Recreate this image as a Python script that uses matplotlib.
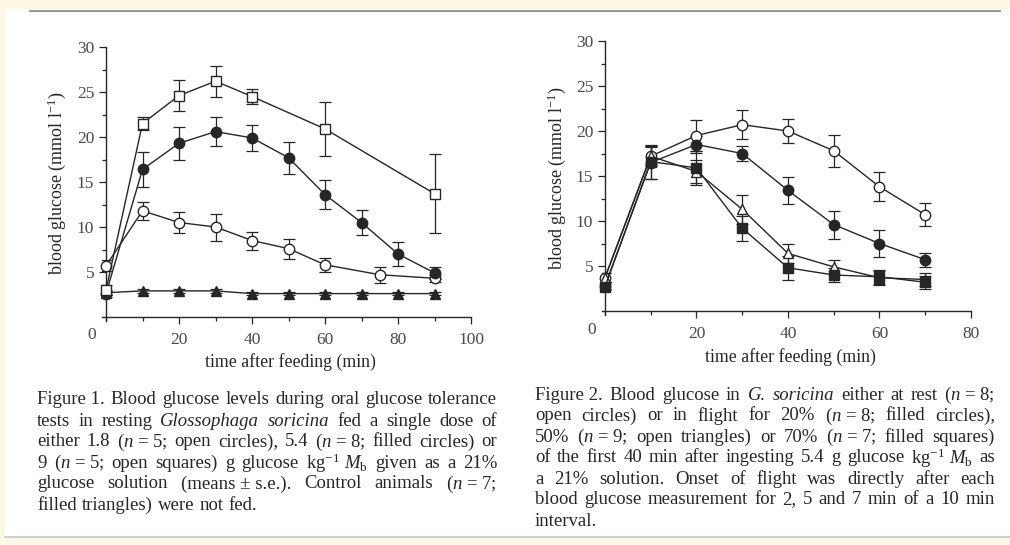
import numpy as np
import matplotlib
matplotlib.use("Agg")
import matplotlib.pyplot as plt
from matplotlib.patches import Rectangle
from matplotlib.lines import Line2D

plt.rcParams['font.family'] = ['Liberation Serif', 'DejaVu Serif']
plt.rcParams['mathtext.fontset'] = 'custom'
plt.rcParams['mathtext.rm'] = 'Liberation Serif'
plt.rcParams['mathtext.it'] = 'Liberation Serif:italic'

# ---- Figure 1 data (resting bats, oral glucose dose)
t_low = [0, 10, 20, 30, 40, 50, 60, 75, 90]
low = [5.7, 11.8, 10.5, 10.0, 8.5, 7.6, 5.8, 4.7, 4.3]
low_se = [0.6, 1.0, 1.2, 1.5, 1.0, 1.1, 0.75, 0.9, 0.4]

t_mid = [0, 10, 20, 30, 40, 50, 60, 70, 80, 90]
mid = [2.6, 16.4, 19.3, 20.6, 19.9, 17.7, 13.6, 10.5, 7.0, 4.9]
mid_se = [0.4, 1.9, 1.8, 1.6, 1.4, 1.8, 1.6, 1.4, 1.3, 0.65]

t_high = [0, 10, 20, 30, 40, 60, 90]
high = [3.0, 21.5, 24.6, 26.2, 24.5, 20.9, 13.7]
high_se = [0.6, 0.7, 1.7, 1.7, 0.8, 3.0, 4.4]

t_ctrl = [0, 10, 20, 30, 40, 50, 60, 70, 80, 90]
ctrl = [2.7, 2.9, 2.9, 2.9, 2.6, 2.6, 2.6, 2.6, 2.6, 2.6]
ctrl_se = [0.2] * 10

# ---- Figure 2 data (rest vs flight)
t2 = [0, 10, 20, 30, 40, 50, 60, 70]
rest = [3.7, 17.2, 19.5, 20.7, 20.0, 17.8, 13.8, 10.7]
rest_se = [0.5, 1.0, 1.7, 1.6, 1.35, 1.8, 1.6, 1.3]
f20 = [2.8, 16.5, 18.5, 17.5, 13.4, 9.6, 7.5, 5.7]
f20_se = [0.4, 1.8, 0.9, 0.8, 1.5, 1.55, 1.5, 0.8]
f50 = [3.7, 17.2, 15.5, 11.3, 6.4, 4.9, 3.7, 3.5]
f50_se = [0.5, 1.1, 1.3, 1.6, 1.1, 0.8, 0.8, 0.7]
f70 = [2.7, 16.6, 15.9, 9.2, 4.8, 4.0, 3.8, 3.2]
f70_se = [0.4, 1.9, 1.9, 1.4, 1.3, 0.8, 0.8, 0.7]

cap1 = [
    "Figure~1. Blood glucose levels during oral glucose tolerance",
    "tests in resting *Glossophaga* *soricina* fed a single dose of",
    "either 1.8 ($n$~=~5; open circles), 5.4 ($n$~=~8; filled circles) or",
    "9 ($n$~=~5; open squares) g glucose kg$^{-1}$~$M_\\mathrm{b}$ given as a 21%",
    "glucose solution (means~±~s.e.). Control animals ($n$~=~7;",
    "filled triangles) were not fed.",
]
cap2 = [
    "Figure~2. Blood glucose in *G.* *soricina* either at rest ($n$~=~8;",
    "open circles) or in flight for 20% ($n$~=~8; filled circles),",
    "50% ($n$~=~9; open triangles) or 70% ($n$~=~7; filled squares)",
    "of the first 40 min after ingesting 5.4 g glucose kg$^{-1}$~$M_\\mathrm{b}$ as",
    "a 21% solution. Onset of flight was directly after each",
    "blood glucose measurement for 2, 5 and 7 min of a 10 min",
    "interval.",
]

W, H = 1010, 545
fig = plt.figure(figsize=(W / 100, H / 100), dpi=100)
fig.patch.set_facecolor('#fdf8e4')
fig.patches.append(Rectangle((5 / W, 1 - 537 / H), 1 - 5 / W, (537 - 9) / H,
                             transform=fig.transFigure, fc='white', ec='none', zorder=-10))
fig.lines.append(Line2D([30 / W, 1000 / W], [1 - 11 / H, 1 - 11 / H], transform=fig.transFigure,
                        color='#9a9a9a', lw=1.5))
fig.lines.append(Line2D([5 / W, 1 / 1], [1 - 537 / H, 1 - 537 / H], transform=fig.transFigure,
                        color='#c8c8c8', lw=1.2))

ink = '#262626'
tick_col = '#4a4a4a'


def make_ax(px_left, px_right, xmin, xmax, py_top, py_zero):
    ymin = -0.4
    py_bot = py_zero + 0.4 * (py_zero - py_top) / 30
    ax = fig.add_axes([px_left / W, 1 - py_bot / H, (px_right - px_left) / W, (py_bot - py_top) / H])
    ax.set_xlim(xmin, xmax)
    ax.set_ylim(ymin, 30)
    ax.spines['top'].set_visible(False)
    ax.spines['right'].set_visible(False)
    ax.spines['left'].set_position(('data', 0))
    ax.spines['bottom'].set_position(('data', 0))
    for s in ('left', 'bottom'):
        ax.spines[s].set_color(ink)
        ax.spines[s].set_linewidth(1.0)
    ax.set_yticks([5, 10, 15, 20, 25, 30])
    ax.set_yticks(np.arange(2.5, 30, 5), minor=True)
    ax.tick_params(axis='both', which='major', direction='out', length=5, width=0.9,
                   color=ink, labelsize=12.5, labelcolor=tick_col)
    ax.tick_params(axis='both', which='minor', direction='out', length=3, width=0.9, color=ink)
    ax.tick_params(axis='x', pad=6)
    ax.patch.set_alpha(0)
    return ax


def series(ax, x, y, e, marker, filled, ms):
    ax.errorbar(x, y, yerr=e, fmt='none', ecolor=ink, elinewidth=0.9, capsize=4.5, capthick=0.9, zorder=2)
    ax.plot(x, y, color=ink, lw=1.0, marker=marker, ms=ms, mec=ink, mew=1.0,
            mfc=ink if filled else 'white', zorder=3, clip_on=False)


# ---- left chart
ax1 = make_ax(102, 471, -1.1, 100, 47, 317)
ax1.set_xticks([20, 40, 60, 80, 100])
ax1.set_xticks([0, 10, 30, 50, 70, 90], minor=True)
series(ax1, t_ctrl, ctrl, ctrl_se, '^', True, 7)
series(ax1, t_low, low, low_se, 'o', False, 7.5)
series(ax1, t_mid, mid, mid_se, 'o', True, 7.5)
series(ax1, t_high, high, high_se, 's', False, 6.5)
fig.text(92 / W, 1 - 335 / H, '0', fontsize=12.5, color=tick_col, ha='center', va='center')
fig.text(290 / W, 1 - 362 / H, 'time after feeding (min)', fontsize=12.8, color=ink, ha='center', va='center')
fig.text(57 / W, 1 - 183 / H, 'blood glucose (mmol l$^{-1}$)', fontsize=13, color=ink,
         rotation=90, ha='center', va='center')

# ---- right chart
ax2 = make_ax(602, 971, -0.65, 80, 41, 311)
ax2.set_xticks([20, 40, 60, 80])
ax2.set_xticks([0, 10, 30, 50, 70], minor=True)
series(ax2, t2, rest, rest_se, 'o', False, 7.5)
series(ax2, t2, f20, f20_se, 'o', True, 7.5)
series(ax2, t2, f50, f50_se, '^', False, 7)
series(ax2, t2, f70, f70_se, 's', True, 6.5)
fig.text(592 / W, 1 - 330 / H, '0', fontsize=12.5, color=tick_col, ha='center', va='center')
fig.text(790 / W, 1 - 357 / H, 'time after feeding (min)', fontsize=12.8, color=ink, ha='center', va='center')
fig.text(557 / W, 1 - 178 / H, 'blood glucose (mmol l$^{-1}$)', fontsize=13, color=ink,
         rotation=90, ha='center', va='center')


# ---- justified captions
def justify(lines, x0, x1, y0, dy, size):
    r = fig.canvas.get_renderer()
    for i, line in enumerate(lines):
        arts = []
        for w in line.split(' '):
            style = 'normal'
            if w.startswith('*') and w.endswith('*'):
                w, style = w[1:-1], 'italic'
            arts.append(fig.text(0, 1 - (y0 + i * dy) / H, w.replace('~', ' '), fontsize=size,
                                 fontstyle=style, color=ink, ha='left', va='center'))
        widths = [a.get_window_extent(r).width for a in arts]
        if i == len(lines) - 1 or len(arts) == 1:
            gap = 0.27 * size * 100 / 72
        else:
            gap = (x1 - x0 - sum(widths)) / (len(arts) - 1)
        x = x0
        for a, w in zip(arts, widths):
            a.set_x(x / W)
            x += w + gap


justify(cap1, 37, 497, 400, 21, 13.5)
justify(cap2, 535, 995, 395, 21, 13.5)

fig.savefig('out.png', dpi=100, facecolor=fig.get_facecolor())
